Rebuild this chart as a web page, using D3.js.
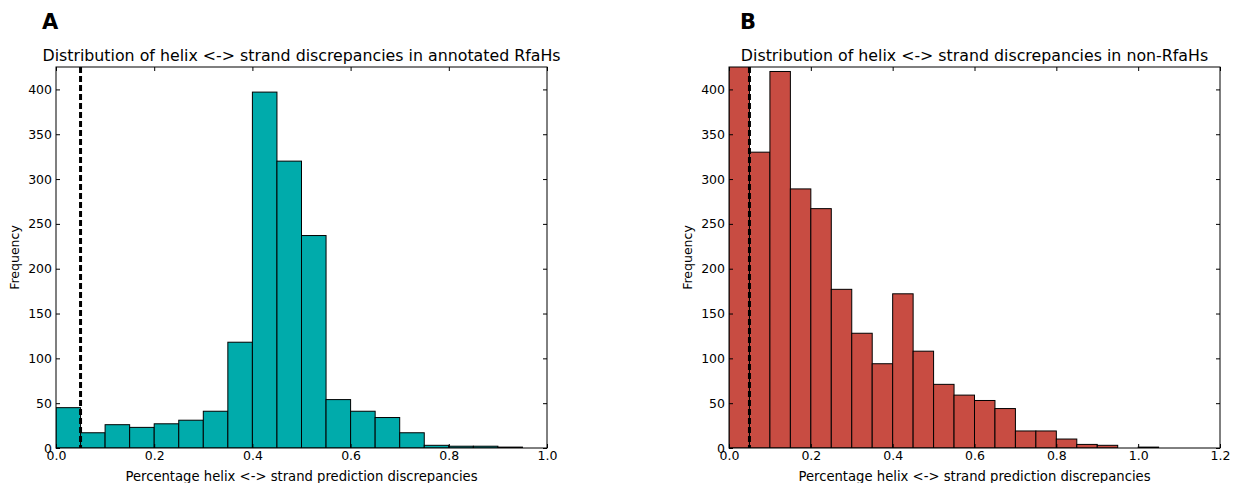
<!DOCTYPE html>
<html>
<head>
<meta charset="utf-8">
<script src="https://cdn.jsdelivr.net/npm/d3@7"></script>
<style>
	body { margin: 0; background: #fff; }
	svg text { font-family: "DejaVu Sans", sans-serif; fill: #000; }
</style>
</head>
<body>
<svg id="chart" width="1233" height="483"></svg>
<script>

//DATA (bin counts, bins of width 0.05 starting at 0)

var binWidth = 0.05;
var cutoff = 0.05;

var rfahCounts = [45, 17, 26, 23, 27, 31, 41, 118, 397, 320, 237, 54, 41, 34, 17, 3, 2, 2, 1, 0];
var nonRfahCounts = [470, 330, 420, 289, 267, 177, 128, 94, 172, 108, 71, 59, 53, 44, 19, 19, 10, 4, 3, 0, 1];

var yTicks = [0, 50, 100, 150, 200, 250, 300, 350, 400];
var xTicksA = [0.0, 0.2, 0.4, 0.6, 0.8, 1.0];
var xTicksB = [0.0, 0.2, 0.4, 0.6, 0.8, 1.0, 1.2];

var panels = [
	{
		letter: "A", letterX: -14,
		title: "Distribution of helix <-> strand discrepancies in annotated RfaHs",
		counts: rfahCounts, xMax: 1.0, xTicks: xTicksA,
		color: "#00abab", left: 56
	},
	{
		letter: "B", letterX: 11,
		title: "Distribution of helix <-> strand discrepancies in non-RfaHs",
		counts: nonRfahCounts, xMax: 1.2, xTicks: xTicksB,
		color: "#c84c42", left: 729
	}
];

//LAYOUT

var plotTop = 67, plotBottom = 448, plotWidth = 491;
var yMax = 425;
var svg = d3.select("#chart");

panels.forEach((p, k) => {

	var height = plotBottom - plotTop;
	var width = plotWidth;

	var g = svg.append("g")
		.attr("transform", "translate(" + p.left + "," + plotTop + ")");

	var xScale = d3.scaleLinear()
		.domain([0, p.xMax])
		.range([0, width]);

	var yScale = d3.scaleLinear()
		.domain([0, yMax])
		.range([height, 0]);

	g.append("clipPath")
		.attr("id", "clip" + k)
		.append("rect")
		.attr("width", width)
		.attr("height", height);

	var plot = g.append("g").attr("clip-path", "url(#clip" + k + ")");

	//bars
	plot.selectAll("rect.bar")
		.data(p.counts)
		.enter()
		.append("rect")
		.attr("class", "bar")
		.attr("x", (d, i) => xScale(i * binWidth))
		.attr("width", (d, i) => xScale((i + 1) * binWidth) - xScale(i * binWidth))
		.attr("y", d => yScale(d))
		.attr("height", d => height - yScale(d))
		.attr("fill", p.color)
		.attr("stroke", "#000")
		.attr("stroke-width", 1);

	//cutoff line
	plot.append("line")
		.attr("x1", xScale(cutoff))
		.attr("x2", xScale(cutoff))
		.attr("y1", 0)
		.attr("y2", height)
		.attr("stroke", "#000")
		.attr("stroke-width", 3)
		.attr("stroke-dasharray", "6,3");

	//axes, ticks inward on all sides
	var tickOpts = (axis) => axis.tickSizeInner(-4).tickSizeOuter(0).tickPadding(6);

	var xAxis = tickOpts(d3.axisBottom(xScale).tickValues(p.xTicks).tickFormat(d3.format(".1f")));
	var xTop = tickOpts(d3.axisTop(xScale).tickValues(p.xTicks).tickFormat(""));
	var yAxis = tickOpts(d3.axisLeft(yScale).tickValues(yTicks));
	var yRight = tickOpts(d3.axisRight(yScale).tickValues(yTicks).tickFormat(""));

	var gx = g.append("g").attr("transform", "translate(0," + height + ")").call(xAxis);
	g.append("g").call(xTop);
	var gy = g.append("g").call(yAxis);
	g.append("g").attr("transform", "translate(" + width + ",0)").call(yRight);

	g.selectAll(".domain").remove();
	g.selectAll(".tick line").attr("stroke", "#000");
	g.selectAll(".tick text").attr("font-size", 12.5).attr("font-family", "DejaVu Sans");
	gx.selectAll(".tick text").attr("y", 3).attr("dy", "0.71em");
	gy.selectAll(".tick text").attr("x", -4);

	//frame
	g.append("rect")
		.attr("width", width)
		.attr("height", height)
		.attr("fill", "none")
		.attr("stroke", "#000")
		.attr("stroke-width", 1);

	//texts
	g.append("text")
		.attr("x", width / 2)
		.attr("y", -6)
		.attr("text-anchor", "middle")
		.attr("font-size", 15.8)
		.text(p.title);

	g.append("text")
		.attr("x", p.letterX)
		.attr("y", -38)
		.attr("font-size", 21)
		.attr("font-weight", "bold")
		.text(p.letter);

	g.append("text")
		.attr("x", width / 2)
		.attr("y", height + 33)
		.attr("text-anchor", "middle")
		.attr("font-size", 13.2)
		.text("Percentage helix <-> strand prediction discrepancies");

	g.append("text")
		.attr("transform", "translate(-37," + (height / 2) + ") rotate(-90)")
		.attr("text-anchor", "middle")
		.attr("font-size", 12.5)
		.text("Frequency");
});

</script>
</body>
</html>
